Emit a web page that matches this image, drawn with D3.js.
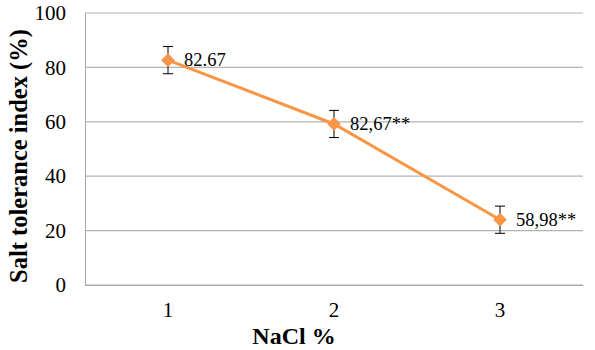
<!DOCTYPE html>
<html>
<head>
<meta charset="utf-8">
<script src="https://cdn.jsdelivr.net/npm/d3@7"></script>
<style>
  body { margin: 0; background: #fff; }
</style>
</head>
<body>
<script>
// chart data
var categories = ["1", "2", "3"]
var values = [82.67, 59.2, 24.0]
var errors = [5, 5, 5]
var labels = ["82.67", "82,67**", "58,98**"]
var yTicks = [0, 20, 40, 60, 80, 100]

var serif = "'Liberation Serif', 'Times New Roman', serif"

function drawChart(){
    var margin = {"top":13, "right":12, "bottom":65, "left":85};
    var svg = d3.select("body").append("svg")
                .attr("width", 595)
                .attr("height", 350);

    var width = 595 - margin.left - margin.right;
    var height = 350 - margin.top - margin.bottom;

    var xScale = d3.scaleBand()
                   .domain(categories)
                   .range([0, width]);

    var yScale = d3.scaleLinear()
                   .domain([0, 100])
                   .range([height, 0]);

    var g = svg.append("g")
               .attr("transform", "translate(" + margin.left + "," + margin.top + ")");

    // gridlines
    g.selectAll(".grid")
     .data(yTicks)
     .enter()
     .append("line")
     .attr("x1", 0)
     .attr("x2", width)
     .attr("y1", function(d){ return yScale(d) })
     .attr("y2", function(d){ return yScale(d) })
     .attr("stroke", "#b3b3b3")
     .attr("stroke-width", 1.2);

    // y axis
    var yAxis = g.append("g")
                 .call(d3.axisLeft(yScale).tickValues(yTicks).tickSize(0).tickPadding(19));
    yAxis.attr("font-family", serif).attr("font-size", 21);
    yAxis.select(".domain").attr("stroke", "#a6a6a6");
    yAxis.selectAll("text").attr("fill", "#000");

    // x axis
    var xAxis = g.append("g")
                 .attr("transform", "translate(0," + height + ")")
                 .call(d3.axisBottom(xScale).tickSize(0).tickPadding(17));
    xAxis.attr("font-family", serif).attr("font-size", 21);
    xAxis.select(".domain").attr("stroke", "#a6a6a6");
    xAxis.selectAll("text").attr("fill", "#000");

    var cx = function(d, i){ return xScale(categories[i]) + xScale.bandwidth() / 2 };

    // line
    var line = d3.line()
                 .x(function(d, i){ return cx(d, i) })
                 .y(function(d){ return yScale(d) });
    g.append("path")
     .datum(values)
     .attr("d", line)
     .attr("fill", "none")
     .attr("stroke", "#f79646")
     .attr("stroke-width", 3);

    // error bars
    var eb = g.selectAll(".err")
              .data(values)
              .enter()
              .append("g")
              .attr("stroke", "#000")
              .attr("stroke-width", 1);
    eb.append("line")
      .attr("x1", cx).attr("x2", cx)
      .attr("y1", function(d, i){ return yScale(d + errors[i]) })
      .attr("y2", function(d, i){ return yScale(d - errors[i]) });
    eb.append("line")
      .attr("x1", function(d, i){ return cx(d, i) - 5 })
      .attr("x2", function(d, i){ return cx(d, i) + 5 })
      .attr("y1", function(d, i){ return yScale(d + errors[i]) })
      .attr("y2", function(d, i){ return yScale(d + errors[i]) });
    eb.append("line")
      .attr("x1", function(d, i){ return cx(d, i) - 5 })
      .attr("x2", function(d, i){ return cx(d, i) + 5 })
      .attr("y1", function(d, i){ return yScale(d - errors[i]) })
      .attr("y2", function(d, i){ return yScale(d - errors[i]) });

    // diamond markers
    g.selectAll(".marker")
     .data(values)
     .enter()
     .append("path")
     .attr("d", d3.symbol().type(d3.symbolDiamond2).size(120))
     .attr("transform", function(d, i){ return "translate(" + cx(d, i) + "," + yScale(d) + ")" })
     .attr("fill", "#f79646");

    // data labels
    g.selectAll(".lbl")
     .data(values)
     .enter()
     .append("text")
     .attr("x", function(d, i){ return cx(d, i) + 16 })
     .attr("y", function(d){ return yScale(d) + 6 })
     .attr("font-family", serif)
     .attr("font-size", 18.5)
     .text(function(d, i){ return labels[i] });

    // axis titles
    svg.append("text")
       .attr("transform", "translate(27," + (margin.top + height / 2 + 7) + ") rotate(-90)")
       .attr("text-anchor", "middle")
       .attr("font-family", serif)
       .attr("font-size", 24.5)
       .attr("font-weight", "bold")
       .text("Salt tolerance index (%)");

    svg.append("text")
       .attr("x", 294)
       .attr("y", 344)
       .attr("text-anchor", "middle")
       .attr("font-family", serif)
       .attr("font-size", 24)
       .attr("font-weight", "bold")
       .text("NaCl %");
}

drawChart();
</script>
</body>
</html>
